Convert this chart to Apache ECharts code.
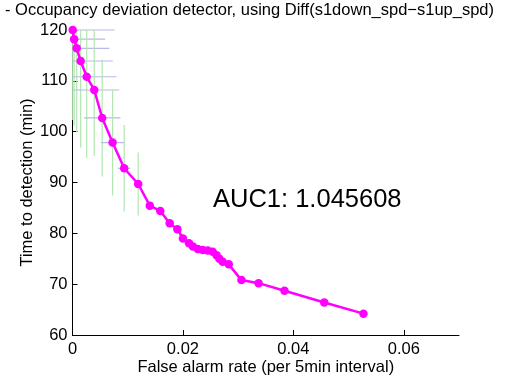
<!DOCTYPE html>
<html>
<head>
<meta charset="utf-8">
<script src="https://cdn.jsdelivr.net/npm/echarts@6/dist/echarts.min.js"></script>
<style>
html,body{margin:0;padding:0;background:#fff;}
#chart{width:506px;height:381px;}
</style>
</head>
<body>
<div id="chart"></div>
<script>
const titleText = '- Occupancy deviation detector, using Diff(s1down_spd\u2212s1up_spd)';
const aucText = 'AUC1: 1.045608';
const xName = 'False alarm rate (per 5min interval)';
const yName = 'Time to detection (min)';
const xTicks = [0, 0.02, 0.04, 0.06];
const yTicks = [60, 70, 80, 90, 100, 110, 120];

const falseAlarm = [0.00004, 0.0003, 0.00076, 0.00148, 0.00257, 0.00394, 0.00538, 0.00726, 0.00936, 0.0119,
  0.0140, 0.0159, 0.0176, 0.0190, 0.0200, 0.0211, 0.0218, 0.0227, 0.0236, 0.0245,
  0.0254, 0.0261, 0.0266, 0.0272, 0.0283, 0.0306, 0.0337, 0.0384, 0.0456, 0.0527];
const detectTime = [120.0, 118.2, 116.4, 113.9, 110.8, 108.2, 102.7, 97.85, 92.8, 89.7,
  85.45, 84.4, 82.0, 80.8, 79.0, 78.05, 77.4, 76.9, 76.7, 76.6,
  76.4, 75.7, 75.0, 74.4, 73.9, 70.8, 70.2, 68.7, 66.4, 64.2];
const xErr = [0.0076, 0.0056, 0.0059, 0.0058, 0.0054, 0.0045, 0.0033, 0.0021, 0.0011, 0,
  0, 0, 0, 0, 0, 0, 0, 0, 0, 0, 0, 0, 0, 0, 0, 0, 0, 0, 0, 0];
const yErr = [17.7, 17.0, 16.5, 17.0, 16.0, 13.0, 11.5, 10.4, 8.5, 6.2,
  0, 0, 0, 0, 0, 0, 0, 0, 0, 0, 0, 0, 0, 0, 0, 0, 0, 0, 0, 0];

const X_MIN = 0, X_MAX = 0.07, Y_MIN = 60, Y_MAX = 120;
const clampX = v => Math.max(X_MIN, Math.min(X_MAX, v));
const clampY = v => Math.max(Y_MIN, Math.min(Y_MAX, v));

const points = falseAlarm.map((x, i) => [x, detectTime[i]]);
const errData = falseAlarm.map((x, i) => [x, detectTime[i], xErr[i], yErr[i]]);

const chart = echarts.init(document.getElementById('chart'), null, {renderer: 'canvas'});
const FONT = 'Liberation Sans, Arial, sans-serif';
const FS = 16.5;

chart.setOption({
  backgroundColor: '#ffffff',
  animation: false,
  title: {
    text: titleText, left: 5, top: 2, padding: 0,
    textStyle: {fontFamily: FONT, fontSize: FS, fontWeight: 'normal', color: '#000'}
  },
  grid: {left: 72.5, top: 30, right: 47, bottom: 46, containLabel: false, outerBoundsMode: 'none'},
  xAxis: {
    type: 'value', min: X_MIN, max: X_MAX,
    name: xName, nameLocation: 'middle', nameGap: 24, nameMoveOverlap: false,
    nameTextStyle: {fontFamily: FONT, fontSize: FS, color: '#000'},
    axisLine: {show: true, lineStyle: {color: '#000', width: 1}},
    axisTick: {show: true, inside: true, length: 5, customValues: xTicks, lineStyle: {color: '#000'}},
    axisLabel: {customValues: xTicks, fontFamily: FONT, fontSize: FS, color: '#000', margin: 6,
      formatter: v => (v === 0 ? '0' : v.toFixed(2))},
    splitLine: {show: false}
  },
  yAxis: {
    type: 'value', min: Y_MIN, max: Y_MAX, interval: 10,
    name: yName, nameLocation: 'middle', nameGap: 37, nameMoveOverlap: false,
    nameTextStyle: {fontFamily: FONT, fontSize: FS, color: '#000'},
    axisLine: {show: true, lineStyle: {color: '#000', width: 1}},
    axisTick: {show: true, inside: true, length: 5, lineStyle: {color: '#000'}},
    axisLabel: {fontFamily: FONT, fontSize: FS, color: '#000', margin: 5},
    splitLine: {show: false}
  },
  graphic: [{
    type: 'text', left: 213, top: 187,
    style: {text: aucText, fontFamily: FONT, fontSize: 25.5, fill: '#000'}
  }],
  series: [{
    type: 'custom',
    data: errData,
    z: 1,
    silent: true,
    renderItem: function (params, api) {
      const x = api.value(0), y = api.value(1), ex = api.value(2), ey = api.value(3);
      const children = [];
      if (ey > 0) {
        const p1 = api.coord([x, clampY(y - ey)]);
        const p2 = api.coord([x, clampY(y + ey)]);
        children.push({type: 'line', shape: {x1: p1[0], y1: p1[1], x2: p2[0], y2: p2[1]},
          style: {stroke: '#b2e6b2', lineWidth: 1.2}});
      }
      if (ex > 0) {
        const p1 = api.coord([clampX(x - ex), y]);
        const p2 = api.coord([clampX(x + ex), y]);
        children.push({type: 'line', shape: {x1: p1[0], y1: p1[1], x2: p2[0], y2: p2[1]},
          style: {stroke: '#b8b8e8', lineWidth: 1.2}});
      }
      return {type: 'group', children: children};
    }
  }, {
    type: 'line',
    data: points,
    z: 3,
    symbol: 'circle',
    symbolSize: 8.5,
    lineStyle: {color: '#ff00ff', width: 2.5},
    itemStyle: {color: '#ff00ff'},
    silent: true
  }]
});
</script>
</body>
</html>
